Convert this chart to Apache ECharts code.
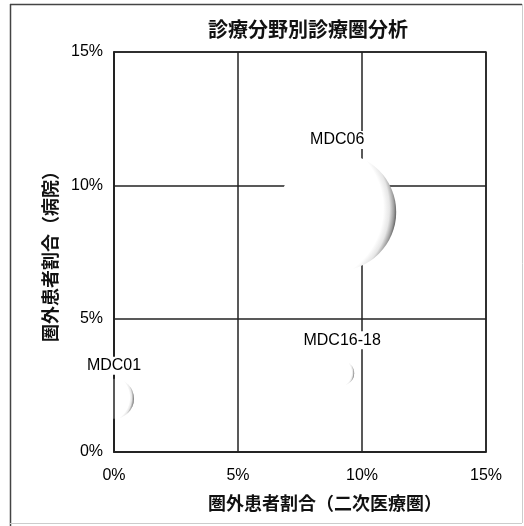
<!DOCTYPE html>
<html>
<head>
<meta charset="utf-8">
<script src="https://cdn.jsdelivr.net/npm/echarts@6/dist/echarts.min.js"></script>
<style>
  html, body { margin: 0; padding: 0; background: #fff; }
  #chart { width: 524px; height: 526px; }
</style>
</head>
<body>
<div id="chart"></div>
<script>
// Out-of-area patient share per clinical field (MDC), in percent
const categories = ['MDC01', 'MDC06', 'MDC16-18'];
const secondaryAreaShare = [0.0, 9.0, 9.2];   // x: 二次医療圏
const hospitalShare = [2.0, 9.0, 2.95];        // y: 病院
const bubbleSize = [40, 118, 24];              // relative bubble weight
const tickValues = [0, 5, 10, 15];

const points = categories.map((name, i) => ({
  name: name,
  value: [secondaryAreaShare[i], hospitalShare[i]],
  symbolSize: bubbleSize[i]
}));

// white sphere lit from the left, shaded on its right rim
const sphere = {
  type: 'radial', x: 0.26, y: 0.47, r: 0.75,
  colorStops: [
    { offset: 0, color: '#ffffff' },
    { offset: 0.84, color: '#ffffff' },
    { offset: 0.91, color: '#e6e6e6' },
    { offset: 0.96, color: '#a0a0a0' },
    { offset: 1, color: '#4a4a4a' }
  ]
};

const tickFont = { fontFamily: 'Liberation Sans', fontSize: 16, color: '#000' };
const nameFont = { fontFamily: 'Noto Sans CJK JP', fontSize: 18, fontWeight: 'bold', color: '#111' };

const chart = echarts.init(document.getElementById('chart'));
chart.setOption({
  backgroundColor: '#fff',
  animation: false,
  title: {
    text: '診療分野別診療圏分析',
    left: 203, top: 14,
    textStyle: { fontFamily: 'Noto Sans CJK JP', fontSize: 20, fontWeight: 'bold', color: '#111' }
  },
  graphic: [
    { type: 'line', shape: { x1: 10, y1: 4.5, x2: 522, y2: 4.5 }, style: { stroke: '#444', lineWidth: 1.5 } },
    { type: 'line', shape: { x1: 10.5, y1: 4, x2: 10.5, y2: 526 }, style: { stroke: '#444', lineWidth: 1.5 } },
    { type: 'line', shape: { x1: 522.5, y1: 4, x2: 522.5, y2: 523 }, style: { stroke: '#ccc', lineWidth: 1 } },
    { type: 'line', shape: { x1: 10, y1: 523.5, x2: 522, y2: 523.5 }, style: { stroke: '#ccc', lineWidth: 1 } }
  ],
  grid: {
    left: 114, top: 52, right: 38, bottom: 74,
    show: true, borderColor: '#222', borderWidth: 1.5, backgroundColor: 'transparent'
  },
  xAxis: {
    type: 'value', min: 0, max: 15, interval: 5,
    name: '圏外患者割合（二次医療圏）',
    nameLocation: 'middle', nameGap: 42,
    nameTextStyle: Object.assign({ padding: [0, 0, 0, 50] }, nameFont),
    axisLine: { show: true, lineStyle: { color: '#222', width: 1.5 } },
    axisTick: { show: false },
    axisLabel: Object.assign({ margin: 16, formatter: '{value}%' }, tickFont),
    splitLine: { show: true, lineStyle: { color: '#222', width: 1.5 } }
  },
  yAxis: [
    {
      type: 'value', min: 0, max: 15, interval: 5,
      name: '圏外患者割合（病院）',
      nameLocation: 'middle', nameGap: 55,
      nameTextStyle: nameFont,
      axisLine: { show: true, lineStyle: { color: '#222', width: 1.5 } },
      axisTick: { show: false },
      axisLabel: Object.assign({ margin: 11, formatter: '{value}%' }, tickFont),
      splitLine: { show: true, lineStyle: { color: '#222', width: 1.5 } }
    },
    {
      // left border drawn over the bubbles
      type: 'value', min: 0, max: 15, interval: 5, position: 'left', z: 3,
      axisLine: { show: true, lineStyle: { color: '#222', width: 1.5 } },
      axisTick: { show: false }, axisLabel: { show: false }, splitLine: { show: false }
    }
  ],
  series: [
    {
      type: 'scatter', z: 2, clip: false,
      data: points,
      itemStyle: { color: sphere, opacity: 1 }
    },
    {
      type: 'scatter', yAxisIndex: 1, z: 5, clip: false,
      data: points.map(p => p.name === 'MDC16-18'
        ? Object.assign({ label: { distance: 12 } }, p) : p),
      itemStyle: { color: 'rgba(0,0,0,0)' },
      label: {
        show: true, position: 'top', distance: 4,
        formatter: p => p.name,
        fontFamily: 'Liberation Sans', fontSize: 16, color: '#000', opacity: 1,
        backgroundColor: '#fff', padding: [1, 2]
      }
    }
  ]
});
</script>
</body>
</html>
